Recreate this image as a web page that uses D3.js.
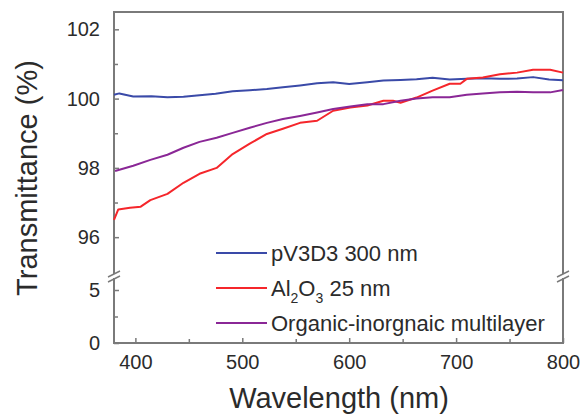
<!DOCTYPE html>
<html>
<head>
<meta charset="utf-8">
<script src="https://cdn.jsdelivr.net/npm/d3@7"></script>
<style>
  body { margin: 0; background: #fff; }
  text { font-family: Arial, "Liberation Sans", sans-serif; fill: #2b2b2b; }
</style>
</head>
<body>
<svg width="581" height="415"></svg>
<script>
// values
var blueWl = [380, 385, 398, 415, 430, 445, 460, 475, 491, 507, 523, 538, 554, 570, 585, 600, 617, 632, 648, 663, 678, 694, 710, 725, 741, 757, 772, 787, 800];
var blueT = [100.11, 100.15, 100.06, 100.07, 100.04, 100.05, 100.1, 100.14, 100.21, 100.24, 100.28, 100.33, 100.38, 100.44, 100.47, 100.42, 100.47, 100.52, 100.54, 100.56, 100.6, 100.55, 100.57, 100.59, 100.57, 100.58, 100.62, 100.55, 100.53];

var redWl = [380, 384, 395, 405, 414, 430, 445, 460, 476, 491, 507, 523, 538, 554, 570, 585, 601, 617, 632, 641, 648, 663, 678, 694, 704, 710, 725, 741, 757, 772, 788, 800];
var redT = [96.5, 96.8, 96.85, 96.88, 97.07, 97.25, 97.57, 97.83, 98.0, 98.4, 98.7, 98.98, 99.13, 99.3, 99.36, 99.65, 99.74, 99.8, 99.94, 99.94, 99.88, 100.03, 100.23, 100.43, 100.43, 100.57, 100.61, 100.7, 100.75, 100.83, 100.83, 100.75];

var purpleWl = [381, 398, 414, 430, 445, 460, 476, 491, 507, 523, 538, 554, 570, 585, 601, 617, 632, 648, 663, 678, 694, 710, 725, 741, 757, 772, 788, 800];
var purpleT = [97.91, 98.06, 98.23, 98.38, 98.58, 98.75, 98.87, 99.01, 99.16, 99.3, 99.41, 99.5, 99.6, 99.7, 99.77, 99.84, 99.84, 99.94, 100.0, 100.04, 100.04, 100.11, 100.15, 100.18, 100.2, 100.18, 100.18, 100.25];

var xTicks = [400, 500, 600, 700, 800];
var xMinor = [450, 550, 650, 750];
var yTopTicks = [96, 98, 100, 102];
var yTopMinor = [97, 99, 101];
var yLowTicks = [0, 5];
var yLowMinor = [2.5];

var series = [
  { name: "pV3D3 300 nm", wl: blueWl, t: blueT, color: "#3a4aa8" },
  { name: "Al2O3 25 nm", wl: redWl, t: redT, color: "#f5262b" },
  { name: "Organic-inorgnaic multilayer", wl: purpleWl, t: purpleT, color: "#8a2796" }
];

function drawChart() {
  var svg = d3.select("svg");
  var pLeft = 114, pRight = 563, pTop = 12, pBottom = 343, breakY = 277;

  var x = d3.scaleLinear().domain([380, 800]).range([pLeft, pRight]);
  var yTop = d3.scaleLinear().domain([94.85, 102.5]).range([breakY, pTop]);
  var yLow = d3.scaleLinear().domain([0, 5]).range([pBottom, 290]);

  var axisColor = "#7a7a7a";

  // frame
  svg.append("rect")
    .attr("x", pLeft).attr("y", pTop)
    .attr("width", pRight - pLeft).attr("height", pBottom - pTop)
    .attr("fill", "none").attr("stroke", axisColor).attr("stroke-width", 2);

  function styleAxis(g) {
    g.select(".domain").remove();
    g.selectAll(".tick line").attr("stroke", axisColor).attr("stroke-width", 1.5);
    g.selectAll(".tick text").style("font-size", "20px").attr("fill", "#2b2b2b");
  }

  // y axis upper segment
  svg.append("g").attr("transform", "translate(" + pLeft + ",0)")
    .call(d3.axisLeft(yTop).tickValues(yTopTicks).tickSizeInner(-5).tickPadding(14).tickFormat(d3.format("d")))
    .call(styleAxis);
  svg.append("g").attr("transform", "translate(" + pLeft + ",0)")
    .call(d3.axisLeft(yTop).tickValues(yTopMinor).tickSizeInner(-4).tickFormat(""))
    .call(styleAxis);

  // y axis lower segment
  svg.append("g").attr("transform", "translate(" + pLeft + ",0)")
    .call(d3.axisLeft(yLow).tickValues(yLowTicks).tickSizeInner(-5).tickPadding(14).tickFormat(d3.format("d")))
    .call(styleAxis);
  svg.append("g").attr("transform", "translate(" + pLeft + ",0)")
    .call(d3.axisLeft(yLow).tickValues(yLowMinor).tickSizeInner(-4).tickFormat(""))
    .call(styleAxis);

  // x axis
  svg.append("g").attr("transform", "translate(0," + pBottom + ")")
    .call(d3.axisBottom(x).tickValues(xTicks).tickSizeInner(-5).tickPadding(12).tickFormat(d3.format("d")))
    .call(styleAxis);
  svg.append("g").attr("transform", "translate(0," + pBottom + ")")
    .call(d3.axisBottom(x).tickValues(xMinor).tickSizeInner(-4).tickFormat(""))
    .call(styleAxis);

  // axis breaks
  [pLeft, pRight].forEach(function (bx) {
    var bk = svg.append("g");
    bk.append("rect").attr("x", bx - 3).attr("y", breakY - 3).attr("width", 6).attr("height", 4).attr("fill", "#fff");
    [-3, 2].forEach(function (o) {
      bk.append("line")
        .attr("x1", bx - 6).attr("y1", breakY + o + 3)
        .attr("x2", bx + 6).attr("y2", breakY + o - 3)
        .attr("stroke", axisColor).attr("stroke-width", 1.5);
    });
  });

  // curves
  var line = d3.line()
    .x(function (d) { return x(d[0]); })
    .y(function (d) { return yTop(d[1]); });

  series.forEach(function (s) {
    svg.append("path")
      .datum(d3.zip(s.wl, s.t))
      .attr("fill", "none")
      .attr("stroke", s.color)
      .attr("stroke-width", 2)
      .attr("stroke-linejoin", "round")
      .attr("d", line);
  });

  // legend
  var legend = svg.append("g");
  series.forEach(function (s, i) {
    var ly = 253 + i * 35;
    legend.append("line")
      .attr("x1", 216).attr("x2", 267).attr("y1", ly).attr("y2", ly)
      .attr("stroke", s.color).attr("stroke-width", 2);
    var t = legend.append("text").attr("x", 271).attr("y", ly + 8).style("font-size", "22px");
    if (i === 1) {
      t.append("tspan").text("Al");
      t.append("tspan").attr("dy", 7).style("font-size", "14px").text("2");
      t.append("tspan").attr("dy", -7).text("O");
      t.append("tspan").attr("dy", 7).style("font-size", "14px").text("3");
      t.append("tspan").attr("dy", -7).text(" 25 nm");
    } else {
      t.text(s.name);
    }
  });

  // axis titles
  svg.append("text")
    .attr("x", 339).attr("y", 408)
    .attr("text-anchor", "middle")
    .style("font-size", "29px")
    .text("Wavelength (nm)");

  svg.append("text")
    .attr("transform", "translate(37,178) rotate(-90)")
    .attr("text-anchor", "middle")
    .style("font-size", "29px")
    .text("Transmittance (%)");
}

drawChart();
</script>
</body>
</html>
